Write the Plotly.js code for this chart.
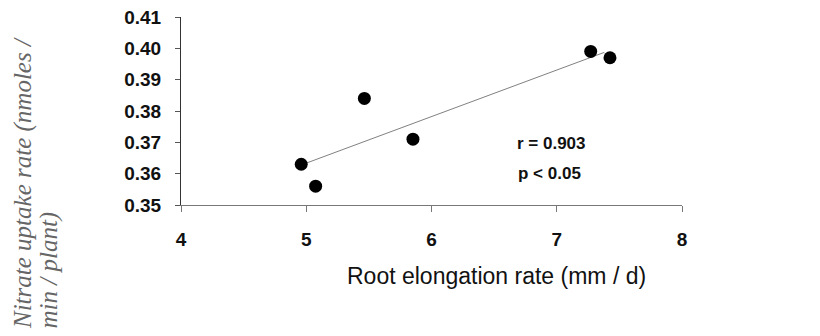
<!DOCTYPE html>
<html>
<head>
<meta charset="utf-8">
<script src="https://cdn.plot.ly/plotly-3.0.1.min.js"></script>
<style>html,body{margin:0;padding:0;background:#fff;}#chart{width:820px;height:336px;}</style>
</head>
<body>
<div id="chart"></div>
<script>
// Data
const rootElongation = [4.96, 5.075, 5.464, 5.852, 7.271, 7.425];
const nitrateUptake = [0.363, 0.356, 0.384, 0.371, 0.399, 0.397];
const trendRangeX = [4.96, 7.38];
const statsText = ['r = 0.903', 'p < 0.05'];
const xTickVals = [4, 5, 6, 7, 8];
const yTickVals = [0.35, 0.36, 0.37, 0.38, 0.39, 0.40, 0.41];
const yTickText = ['0.35', '0.36', '0.37', '0.38', '0.39', '0.40', '0.41'];
const yTitleLines = ['Nitrate uptake rate (nmoles /', 'min / plant)'];
const xTitle = 'Root elongation rate (mm / d)';

// least-squares fit from the data
const n = rootElongation.length;
const mx = rootElongation.reduce((a, b) => a + b, 0) / n;
const my = nitrateUptake.reduce((a, b) => a + b, 0) / n;
let sxy = 0, sxx = 0;
for (let i = 0; i < n; i++) {
  sxy += (rootElongation[i] - mx) * (nitrateUptake[i] - my);
  sxx += (rootElongation[i] - mx) ** 2;
}
const slope = sxy / sxx, intercept = my - slope * mx;
const trendY = trendRangeX.map(x => intercept + slope * x);

const font = 'Liberation Sans, Arial, sans-serif';
const serif = 'Liberation Serif, Times New Roman, serif';

const traces = [
  {x: trendRangeX, y: trendY, mode: 'lines', line: {color: '#808080', width: 1}, hoverinfo: 'skip'},
  {x: rootElongation, y: nitrateUptake, mode: 'markers', marker: {color: '#000', size: 13}}
];

const L = 181, W = 501, T = 17, H = 188;
const px = v => (v - L) / W;
const py = v => (T + H - v) / H;

const layout = {
  width: 820, height: 336,
  margin: {l: 181, r: 138, t: 17, b: 131},
  showlegend: false,
  paper_bgcolor: '#fff', plot_bgcolor: '#fff',
  font: {family: font, color: '#000', size: 17},
  xaxis: {range: [4, 8], tickvals: xTickVals, showgrid: false, zeroline: false,
    showline: true, linecolor: '#777', linewidth: 1, ticks: 'outside', ticklen: 6, tickcolor: '#777',
    tickfont: {size: 19, family: font, color: '#111', weight: 'bold'}, ticklabelstandoff: 11},
  yaxis: {range: [0.35, 0.41], tickvals: yTickVals, ticktext: yTickText, showgrid: false, zeroline: false,
    showline: true, linecolor: '#333', linewidth: 1, ticks: 'outside', ticklen: 5, tickcolor: '#555',
    tickfont: {size: 19, family: font, color: '#111', weight: 'bold'}, ticklabelstandoff: 10},
  annotations: [
    {xref: 'x', yref: 'y', x: 6.96, y: 0.3695, text: statsText[0], showarrow: false, xanchor: 'center', yanchor: 'middle',
      font: {size: 17, family: font, color: '#111', weight: 'bold'}},
    {xref: 'x', yref: 'y', x: 6.94, y: 0.3602, text: statsText[1], showarrow: false, xanchor: 'center', yanchor: 'middle',
      font: {size: 17, family: font, color: '#111', weight: 'bold'}},
    {xref: 'paper', yref: 'paper', x: px(496), y: py(276), text: xTitle,
      showarrow: false, xanchor: 'center', yanchor: 'middle', font: {size: 23, family: font, color: '#111'}},
    {xref: 'paper', yref: 'paper', x: px(23), y: py(331), text: yTitleLines[0], textangle: -90,
      showarrow: false, xanchor: 'center', yanchor: 'bottom',
      font: {size: 25, family: serif, color: '#666', style: 'italic'}},
    {xref: 'paper', yref: 'paper', x: px(48), y: py(331), text: yTitleLines[1], textangle: -90,
      showarrow: false, xanchor: 'center', yanchor: 'bottom',
      font: {size: 25, family: serif, color: '#666', style: 'italic'}}
  ]
};

Plotly.newPlot('chart', traces, layout, {displayModeBar: false, staticPlot: true});
</script>
</body>
</html>
